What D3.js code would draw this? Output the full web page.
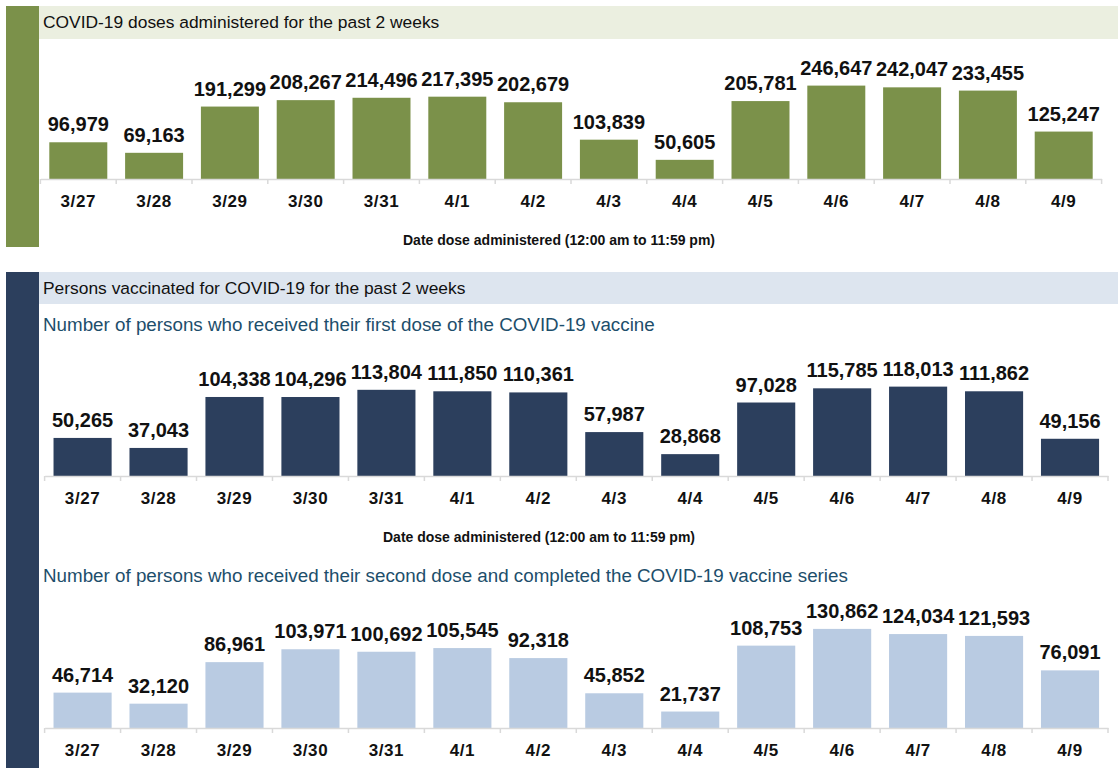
<!DOCTYPE html>
<html>
<head>
<meta charset="utf-8">
<script src="https://cdn.jsdelivr.net/npm/d3@7"></script>
<style>
  html, body { margin: 0; padding: 0; background: #ffffff; }
  svg { display: block; }
</style>
</head>
<body>
<svg id="chart" width="1118" height="768"></svg>
<script>
// ---------- data ----------
const dates = ["3/27","3/28","3/29","3/30","3/31","4/1","4/2","4/3","4/4","4/5","4/6","4/7","4/8","4/9"];
const dosesAdministered = [96979, 69163, 191299, 208267, 214496, 217395, 202679, 103839, 50605, 205781, 246647, 242047, 233455, 125247];
const firstDose = [50265, 37043, 104338, 104296, 113804, 111850, 110361, 57987, 28868, 97028, 115785, 118013, 111862, 49156];
const secondDose = [46714, 32120, 86961, 103971, 100692, 105545, 92318, 45852, 21737, 108753, 130862, 124034, 121593, 76091];
const yMaxDoses = 300000;
const yMaxPersons = 150000;

const titleDoses = "COVID-19 doses administered for the past 2 weeks";
const titlePersons = "Persons vaccinated for COVID-19 for the past 2 weeks";
const subFirst = "Number of persons who received their first dose of the COVID-19 vaccine";
const subSecond = "Number of persons who received their second dose and completed the COVID-19 vaccine series";
const axisTitle = "Date dose administered (12:00 am to 11:59 pm)";

// ---------- styles ----------
const FONT = "'Liberation Sans', Arial, sans-serif";
const green = "#7b914a", greenLight = "#ebefe0";
const navy = "#2c3f5d", blueLight = "#dde5ef", lightBar = "#b9cbe2";
const subColor = "#1d4e6b";

const svg = d3.select("#chart");

function panelFrame(y, h, barColor, headerH, headerColor, title) {
  svg.append("rect").attr("x", 6).attr("y", y).attr("width", 33).attr("height", h).attr("fill", barColor);
  svg.append("rect").attr("x", 39).attr("y", y).attr("width", 1118 - 39).attr("height", headerH).attr("fill", headerColor);
  svg.append("text").attr("x", 43).attr("y", y + 22)
    .attr("font-family", FONT).attr("font-size", 17.4).attr("fill", "#111")
    .text(title);
}

function barChart(values, color, x0, x1, baseY, yMax, axisTitleX) {
  const g = svg.append("g");
  const x = d3.scaleBand().domain(dates).range([x0, x1]).paddingInner(0.235).paddingOuter(0.1175);
  const y = d3.scaleLinear().domain([0, yMax]).range([baseY, baseY - 113.6]);
  const data = dates.map((d, i) => ({ d, v: values[i] }));

  g.selectAll("rect.bar").data(data).enter().append("rect")
    .attr("class", "bar")
    .attr("x", d => x(d.d)).attr("width", x.bandwidth())
    .attr("y", d => y(d.v)).attr("height", d => y(0) - y(d.v))
    .attr("fill", color);

  g.selectAll("text.val").data(data).enter().append("text")
    .attr("class", "val")
    .attr("x", d => x(d.d) + x.bandwidth() / 2)
    .attr("y", d => y(d.v) - 11)
    .attr("text-anchor", "middle")
    .attr("font-family", FONT).attr("font-weight", "bold").attr("font-size", 20).attr("fill", "#111")
    .text(d => d3.format(",")(d.v));

  // axis with labels
  const axis = g.append("g").attr("transform", `translate(0,${baseY})`)
    .call(d3.axisBottom(x).tickSize(0).tickPadding(16));
  axis.select(".domain").attr("stroke", "#d9d9d9").attr("stroke-width", 1.5);
  axis.selectAll(".tick text")
    .attr("font-family", FONT).attr("font-weight", "bold").attr("font-size", 17)
    .attr("letter-spacing", 0.6).attr("fill", "#111");

  // tick marks at category boundaries
  const step = x.step();
  const bounds = dates.map(d => x(d) - (step - x.bandwidth()) / 2).concat([x1]);
  g.selectAll("line.tk").data(bounds).enter().append("line")
    .attr("x1", d => d).attr("x2", d => d)
    .attr("y1", baseY).attr("y2", baseY + 5)
    .attr("stroke", "#d9d9d9").attr("stroke-width", 1.5);

  if (axisTitleX != null) {
    g.append("text").attr("x", axisTitleX).attr("y", baseY + 66)
      .attr("text-anchor", "middle")
      .attr("font-family", FONT).attr("font-weight", "bold").attr("font-size", 14).attr("fill", "#111")
      .text(axisTitle);
  }
}

// Panel 1
panelFrame(6, 241, green, 33, greenLight, titleDoses);
barChart(dosesAdministered, green, 40.4, 1101.6, 179, yMaxDoses, 559);

// Panel 2
panelFrame(272, 496, navy, 32, blueLight, titlePersons);
svg.append("text").attr("x", 43).attr("y", 331)
  .attr("font-family", FONT).attr("font-size", 18.8).attr("fill", subColor).text(subFirst);
barChart(firstDose, navy, 44.6, 1108, 476, yMaxPersons, 539);

svg.append("text").attr("x", 43).attr("y", 582)
  .attr("font-family", FONT).attr("font-size", 18.8).attr("fill", subColor).text(subSecond);
barChart(secondDose, lightBar, 44.6, 1108, 728, yMaxPersons, null);
</script>
</body>
</html>
